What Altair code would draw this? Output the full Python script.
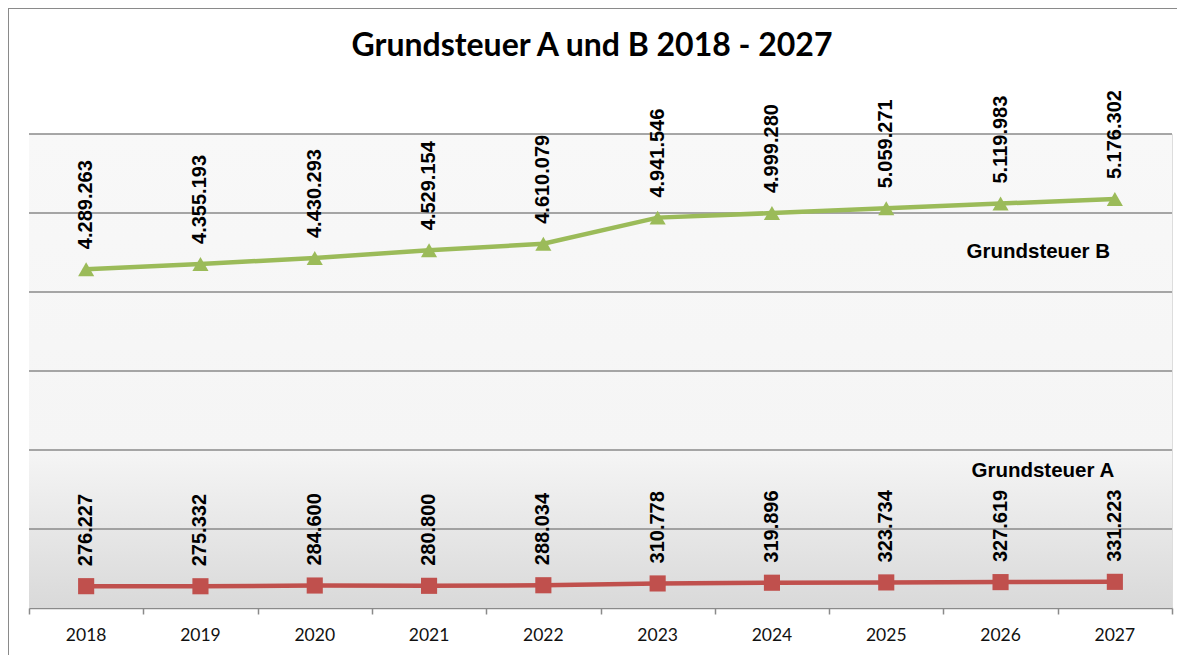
import altair as alt
import pandas as pd

years = [2018, 2019, 2020, 2021, 2022, 2023, 2024, 2025, 2026, 2027]
grundsteuer_b = [4289263, 4355193, 4430293, 4529154, 4610079, 4941546, 4999280, 5059271, 5119983, 5176302]
grundsteuer_a = [276227, 275332, 284600, 280800, 288034, 310778, 319896, 323734, 327619, 331223]

title_text = "Grundsteuer A und B 2018 - 2027"
series_names = ["Grundsteuer  B", "Grundsteuer  A"]
series_label_x = [2026.33, 2026.37]
series_label_y = [4506000, 1734000]

grid_values = [1000000, 2000000, 3000000, 4000000, 5000000, 6000000]

GREEN = "#9bbb59"
RED = "#c0504d"

def fmt(v):
    return f"{v:,}".replace(",", ".")

rows = []
for y, v in zip(years, grundsteuer_b):
    rows.append({"year": y, "value": v, "series": "B", "label": fmt(v)})
for y, v in zip(years, grundsteuer_a):
    rows.append({"year": y, "value": v, "series": "A", "label": fmt(v)})
df = pd.DataFrame(rows)

ann = pd.DataFrame({"name": series_names, "year": series_label_x, "value": series_label_y})
grid_df = pd.DataFrame({"value": grid_values})
year_df = pd.DataFrame({"year": years})

# category boundaries (axis ticks sit between the years)
boundary_ticks = [y - 0.5 for y in years] + [years[-1] + 0.5]

xscale = alt.Scale(domain=[2017.5, 2027.5], nice=False, zero=False)
yscale = alt.Scale(domain=[0, 6000000], nice=False)

x_enc = alt.X(
    "year:Q",
    scale=xscale,
    axis=alt.Axis(
        values=boundary_ticks,
        title=None,
        grid=False,
        labels=False,
        tickColor="#8a8a8a",
        tickSize=6,
        tickWidth=1.5,
        domainColor="#8a8a8a",
        domainWidth=1.5,
    ),
)
y_enc = alt.Y("value:Q", scale=yscale, axis=None)

color = alt.Color("series:N", scale=alt.Scale(domain=["B", "A"], range=[GREEN, RED]), legend=None)
shape = alt.Shape("series:N", scale=alt.Scale(domain=["B", "A"], range=["triangle-up", "square"]), legend=None)

one = pd.DataFrame({"k": [0]})

bg = alt.Chart(one).mark_rect(
    color=alt.Gradient(
        gradient="linear",
        x1=0, x2=0, y1=0, y2=1,
        stops=[
            alt.GradientStop(color="#f8f8f8", offset=0),
            alt.GradientStop(color="#f5f5f5", offset=0.667),
            alt.GradientStop(color="#d9d9d9", offset=1),
        ],
    )
).encode(x=alt.value(0), x2=alt.value("width"), y=alt.value(0), y2=alt.value("height"))

grid = alt.Chart(grid_df).mark_rule(color="#8a8a8a", strokeWidth=1.6).encode(
    x=alt.value(0), x2=alt.value("width")
)

frame = alt.Chart(one).mark_rect(
    fillOpacity=0, stroke="#8a8a8a", strokeWidth=2
).encode(x=alt.value(-21), x2=alt.value(1300), y=alt.value(-126), y2=alt.value(700))

title = alt.Chart(pd.DataFrame({"t": [title_text]})).mark_text(
    align="center", baseline="alphabetic", font="Lato", fontSize=32, fontWeight="bold", color="#000000"
).encode(x=alt.value(563), y=alt.value(-78), text="t:N")

year_labels = alt.Chart(year_df).mark_text(
    align="center", baseline="middle", font="Lato", fontSize=17.5, color="#111111"
).encode(y=alt.value(502), text=alt.Text("year:Q", format="d"))

base = alt.Chart(df)

lines = base.mark_line(strokeWidth=4.5).encode(color=color, detail="series:N")
points = base.mark_point(filled=True, size=260, opacity=1).encode(color=color, shape=shape)
labels = base.mark_text(
    angle=270, align="left", baseline="middle", dx=20,
    font="Liberation Sans", fontWeight="bold", fontSize=20, color="#000000",
).encode(text="label:N")

annot = alt.Chart(ann).mark_text(
    align="center", baseline="middle",
    font="Liberation Sans", fontWeight="bold", fontSize=20.5, color="#000000",
).encode(text="name:N")

chart = alt.layer(bg, frame, grid, lines, points, labels, annot, year_labels, title).encode(
    x=x_enc, y=y_enc
).properties(
    width=1143,
    height=474,
    autosize=alt.AutoSizeParams(type="none"),
    padding={"left": 21, "top": 126, "right": 5, "bottom": 47},
).configure_view(stroke=None).configure(background="#ffffff")

chart.save("out.html", embed_options={"renderer": "svg", "actions": False})
